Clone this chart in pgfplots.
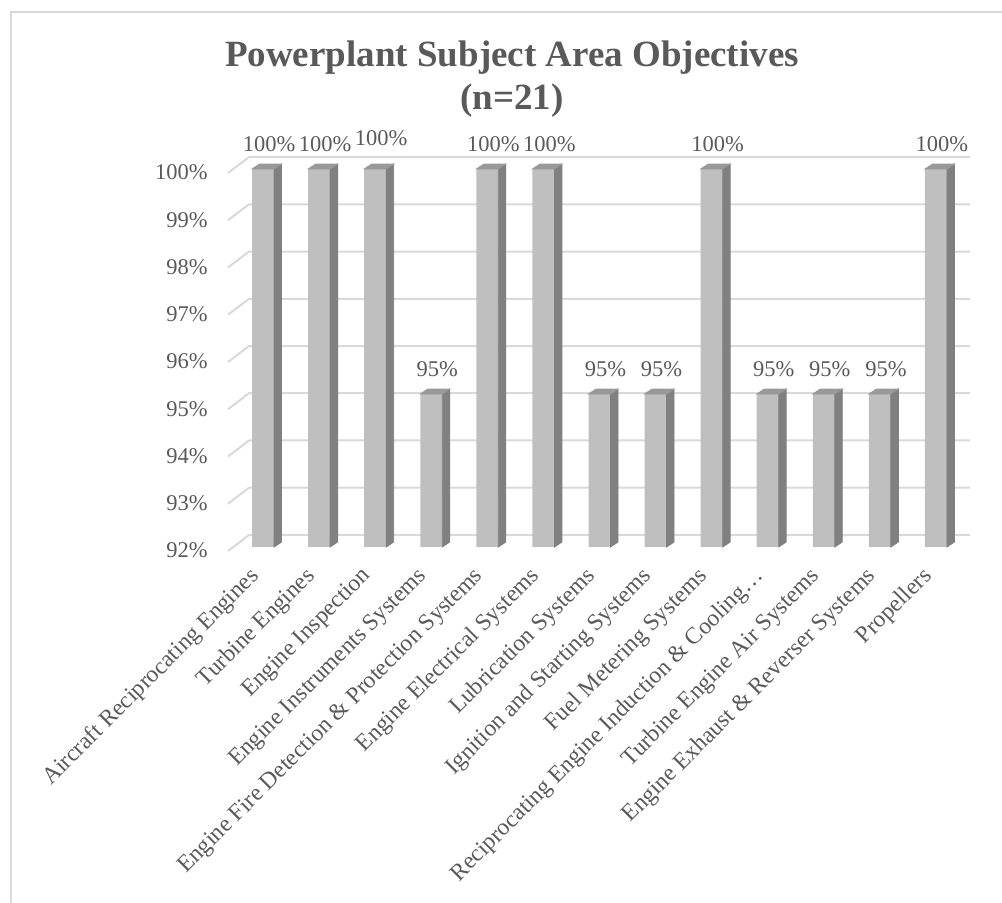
\documentclass[border=0pt]{standalone}
\usepackage{pgfplots}
\pgfplotsset{compat=1.18}
\usepackage{pgfplotstable}
\usepackage{fontspec}
\setmainfont{Liberation Serif}

\definecolor{txt}{HTML}{595959}
\definecolor{gridc}{HTML}{D9D9D9}
\definecolor{framec}{HTML}{D9D9D9}
\definecolor{frontc}{HTML}{BFBFBF}
\definecolor{sidec}{HTML}{808080}
\definecolor{topc}{HTML}{999999}

% share of the 21 respondents per subject area, in percent; ls = extra lift of the value label
\pgfplotstableread{
x v ls
0 100 0
1 100 0
2 100 3
3 95.238 0
4 100 0
5 100 0
6 95.238 0
7 95.238 0
8 100 0
9 95.238 0
10 95.238 0
11 95.238 0
12 100 0
}\scores

\pgfdeclareplotmark{nothing}{}

\begin{document}
\begin{tikzpicture}[every node/.style={text=txt}]
\useasboundingbox (0,0) rectangle (501pt,451.5pt);
% chart frame
\draw[framec, line width=1pt] (5.5pt,0) -- (5.5pt,445.5pt) -- (501pt,445.5pt);
% title
\node[anchor=base, font=\fontsize{18.5}{22}\selectfont\bfseries] at (256pt,418pt) {Powerplant Subject Area Objectives};
\node[anchor=base, font=\fontsize{18.5}{22}\selectfont\bfseries] at (256pt,396.5pt) {(n=21)};

\begin{axis}[
  at={(117.5pt,178pt)}, anchor=south west,
  scale only axis, width=364.5pt, height=189pt,
  xmin=-0.5, xmax=12.5, ymin=92, ymax=100,
  enlargelimits=false,
  clip mode=individual,
  axis line style={draw=none},
  major tick length=0pt,
  ytick={92,93,...,100},
  yticklabels={92\%,93\%,94\%,95\%,96\%,97\%,98\%,99\%,100\%},
  yticklabel style={anchor=east, inner sep=0pt, xshift=-13.5pt, yshift=-1.75pt},
  xtick={0,...,12},
  xticklabels={Aircraft Reciprocating Engines,Turbine Engines,Engine Inspection,Engine Instruments Systems,Engine Fire Detection \& Protection Systems,Engine Electrical Systems,Lubrication Systems,Ignition and Starting Systems,Fuel Metering Systems,Reciprocating Engine Induction \& Cooling…,Turbine Engine Air Systems,Engine Exhaust \& Reverser Systems,Propellers},
  xticklabel style={xshift=-7.5pt, yshift=-9pt, rotate=45, anchor=north east, inner sep=0pt,
    font=\fontsize{11.8}{13}\selectfont},
  yticklabel style={font=\fontsize{11.25}{13}\selectfont},
  ticklabel style={text=txt},
  /pgf/number format/assume math mode=true,
]
% back-wall gridlines with their side-wall lead-in
\pgfplotsinvokeforeach{92,93,...,100}{
  \draw[gridc, line width=1pt]
    ([xshift=-3.5pt,yshift=-2pt]axis cs:-0.5,#1) --
    ([xshift=7pt,yshift=6pt]axis cs:-0.5,#1) --
    ([xshift=3pt,yshift=6pt]axis cs:12.5,#1);
}
% front faces of the columns
\addplot[ybar, bar shift=0pt, bar width=11pt, fill=frontc, draw=none]
  table[x=x, y=v] {\scores};
% side and top faces of the columns (depth 3.75pt x 2.5pt)
\addplot[
  scatter, only marks, mark=nothing,
  visualization depends on={\thisrow{v} \as \yv},
  scatter/@pre marker code/.code={%
    \pgfmathsetmacro\colh{(\yv-92)*23.625}%
    \fill[sidec] (5.5pt,0pt) -- (9.25pt,2.5pt) -- (9.25pt,2.5pt-\colh pt) -- (5.5pt,-\colh pt) -- cycle;
    \fill[topc] (-5.5pt,0pt) -- (5.5pt,0pt) -- (9.25pt,2.5pt) -- (-1.75pt,2.5pt) -- cycle;
  },
  scatter/@post marker code/.code={},
] table[x=x, y=v] {\scores};
% value labels
\addplot[
  only marks, mark=nothing,
  visualization depends on={\thisrow{ls} \as \ls},
  point meta=\thisrow{v},
  nodes near coords={\pgfmathprintnumber[fixed,precision=0]{\pgfplotspointmeta}\%},
  every node near coord/.append style={anchor=base, inner sep=0pt, xshift=3pt,
    yshift={(8.75+\ls)*1pt}, font=\fontsize{11.25}{13}\selectfont, text=txt},
] table[x=x, y=v] {\scores};
\end{axis}
\end{tikzpicture}
\end{document}
